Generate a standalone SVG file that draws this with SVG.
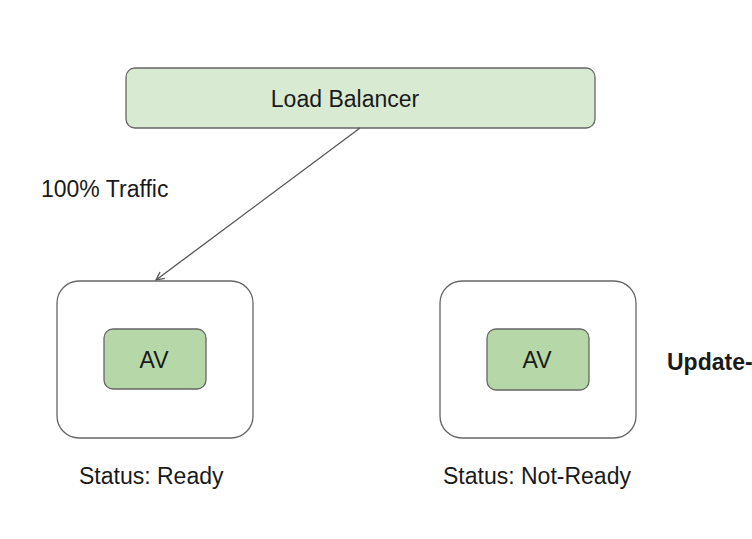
<svg xmlns="http://www.w3.org/2000/svg" width="752" height="539" viewBox="0 0 752 539">
<style>
.t{font-family:"Liberation Sans",Arial,sans-serif;font-size:23px;fill:#1a1a1a}
.outer{fill:#ffffff;stroke:#666666;stroke-width:1.3}
.inner{fill:#b6d7a8;stroke:#666666;stroke-width:1.3}
.lb{fill:#d9ead3;stroke:#666666;stroke-width:1.3}
.edge{stroke:#555555;stroke-width:1.3;fill:none}
</style>
<defs>
<marker id="ah" viewBox="0 0 10 10" refX="9" refY="5" markerWidth="10" markerHeight="10" markerUnits="userSpaceOnUse" orient="auto">
<path d="M1,1 L9,5 L1,9" fill="none" stroke="#555555" stroke-width="1.3"/>
</marker>
</defs>
<rect width="752" height="539" fill="#ffffff"/>
<g id="load-balancer">
<rect class="lb" x="126" y="68" width="469" height="60" rx="9"/>
<text class="t" x="345" y="107" text-anchor="middle">Load Balancer</text>
</g>
<g id="connectors">
<line class="edge" x1="360" y1="128" x2="156" y2="280" marker-end="url(#ah)"/>
<text class="t" x="41" y="197">100% Traffic</text>
</g>
<g id="pod-ready">
<rect class="outer" x="57" y="281" width="196" height="157" rx="22"/>
<rect class="inner" x="104" y="329" width="102" height="60" rx="9"/>
<text class="t" x="154" y="368" text-anchor="middle">AV</text>
<text class="t" x="79" y="484">Status: Ready</text>
</g>
<g id="pod-not-ready">
<rect class="outer" x="440" y="281" width="196" height="157" rx="22"/>
<rect class="inner" x="487" y="329" width="102" height="61" rx="9"/>
<text class="t" x="537" y="368" text-anchor="middle">AV</text>
<text class="t" x="443" y="484">Status: Not-Ready</text>
</g>
<text class="t" x="667" y="370" style="font-weight:bold">Update-</text>
</svg>
